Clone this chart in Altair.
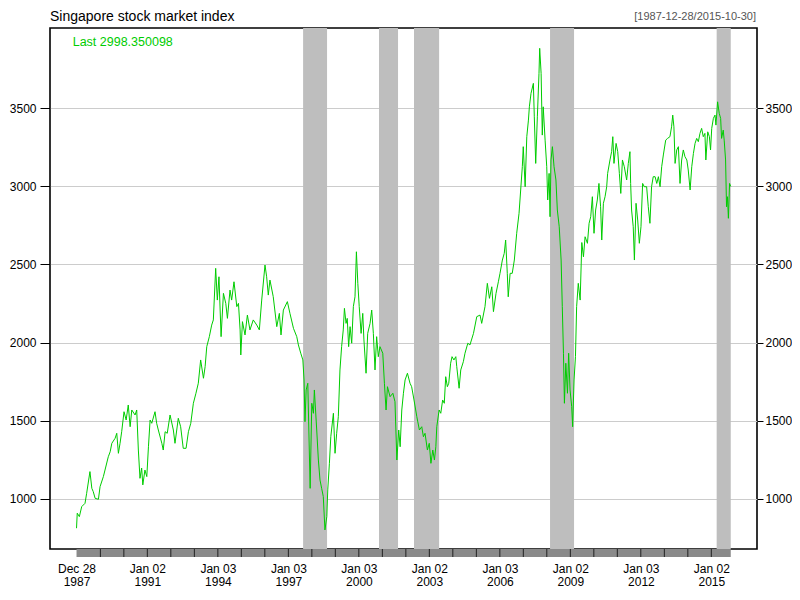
import altair as alt
import pandas as pd

TITLE = "Singapore stock market index"
RANGE_TEXT = "[1987-12-28/2015-10-30]"
LAST_TEXT = "Last 2998.350098"

# decimal-year dates and index values
YEARS = [
    1987.99, 1988.02, 1988.11, 1988.21, 1988.35, 1988.42, 1988.56, 1988.64, 1988.70, 1988.78,
    1988.92, 1988.99, 1989.13, 1989.20, 1989.34, 1989.42, 1989.49, 1989.63, 1989.70, 1989.77,
    1989.84, 1989.91, 1990.01, 1990.10, 1990.19, 1990.27, 1990.34, 1990.48, 1990.55, 1990.62,
    1990.69, 1990.76, 1990.81, 1990.90, 1990.98, 1991.05, 1991.12, 1991.19, 1991.33, 1991.40,
    1991.47, 1991.62, 1991.68, 1991.76, 1991.85, 1991.97, 1992.11, 1992.18, 1992.32, 1992.42,
    1992.53, 1992.65, 1992.75, 1992.85, 1992.96, 1993.07, 1993.17, 1993.27, 1993.39, 1993.46,
    1993.53, 1993.64, 1993.74, 1993.81, 1993.91, 1993.98, 1994.05, 1994.14, 1994.24, 1994.34,
    1994.41, 1994.52, 1994.59, 1994.69, 1994.81, 1994.88, 1994.95, 1994.98, 1995.05, 1995.16,
    1995.26, 1995.37, 1995.51, 1995.66, 1995.77, 1995.87, 1996.01, 1996.08, 1996.15, 1996.22,
    1996.36, 1996.51, 1996.62, 1996.69, 1996.79, 1996.96, 1997.07, 1997.22, 1997.36, 1997.43,
    1997.53, 1997.62, 1997.67, 1997.71, 1997.76, 1997.83, 1997.93, 1998.00, 1998.07, 1998.11,
    1998.21, 1998.28, 1998.35, 1998.42, 1998.49, 1998.56, 1998.64, 1998.68, 1998.75, 1998.81,
    1998.92, 1998.99, 1999.06, 1999.13, 1999.20, 1999.27, 1999.34, 1999.39, 1999.46, 1999.51,
    1999.57, 1999.63, 1999.70, 1999.77, 1999.84, 1999.90, 1999.96, 2000.02, 2000.10, 2000.17,
    2000.22, 2000.31, 2000.38, 2000.48, 2000.55, 2000.62, 2000.69, 2000.76, 2000.83, 2000.90,
    2001.02, 2001.09, 2001.16, 2001.22, 2001.33, 2001.45, 2001.54, 2001.62, 2001.70, 2001.76,
    2001.83, 2001.90, 2001.97, 2002.07, 2002.18, 2002.25, 2002.35, 2002.47, 2002.58, 2002.68,
    2002.75, 2002.82, 2002.92, 2003.00, 2003.07, 2003.15, 2003.22, 2003.28, 2003.32, 2003.42,
    2003.49, 2003.57, 2003.64, 2003.70, 2003.77, 2003.83, 2003.91, 2003.97, 2004.05, 2004.13,
    2004.17, 2004.27, 2004.34, 2004.45, 2004.52, 2004.64, 2004.73, 2004.88, 2005.02, 2005.16,
    2005.23, 2005.37, 2005.47, 2005.56, 2005.66, 2005.73, 2005.84, 2005.94, 2006.01, 2006.11,
    2006.19, 2006.25, 2006.32, 2006.36, 2006.44, 2006.53, 2006.62, 2006.72, 2006.82, 2006.89,
    2006.96, 2007.00, 2007.08, 2007.15, 2007.22, 2007.26, 2007.33, 2007.43, 2007.47, 2007.53,
    2007.60, 2007.67, 2007.70, 2007.76, 2007.81, 2007.85, 2007.93, 2008.00, 2008.04, 2008.10,
    2008.14, 2008.18, 2008.24, 2008.31, 2008.39, 2008.45, 2008.53, 2008.61, 2008.66, 2008.71,
    2008.75, 2008.81, 2008.88, 2008.93, 2008.99, 2009.06, 2009.10, 2009.16, 2009.22, 2009.27,
    2009.34, 2009.42, 2009.49, 2009.56, 2009.63, 2009.73, 2009.80, 2009.87, 2009.94, 2010.01,
    2010.08, 2010.15, 2010.22, 2010.29, 2010.34, 2010.41, 2010.48, 2010.55, 2010.59, 2010.69,
    2010.76, 2010.81, 2010.86, 2010.95, 2011.02, 2011.09, 2011.15, 2011.22, 2011.30, 2011.40,
    2011.47, 2011.54, 2011.57, 2011.61, 2011.68, 2011.73, 2011.80, 2011.87, 2011.94, 2012.01,
    2012.08, 2012.15, 2012.25, 2012.32, 2012.39, 2012.46, 2012.53, 2012.61, 2012.68, 2012.75,
    2012.82, 2012.89, 2012.96, 2013.06, 2013.14, 2013.24, 2013.31, 2013.36, 2013.41, 2013.46,
    2013.53, 2013.60, 2013.67, 2013.74, 2013.81, 2013.88, 2013.96, 2014.02, 2014.10, 2014.17,
    2014.24, 2014.31, 2014.38, 2014.45, 2014.52, 2014.59, 2014.66, 2014.73, 2014.77, 2014.85,
    2014.92, 2014.97, 2015.02, 2015.09, 2015.16, 2015.20, 2015.27, 2015.34, 2015.40, 2015.44,
    2015.51, 2015.55, 2015.61, 2015.65, 2015.69, 2015.73, 2015.78, 2015.83,
]
VALUES = [
    813, 909, 887, 951, 972, 1036, 1175, 1068, 1047, 1004,
    998, 1079, 1143, 1185, 1270, 1302, 1356, 1388, 1420, 1292,
    1356, 1430, 1558, 1505, 1601, 1462, 1569, 1537, 1569, 1313,
    1132, 1198, 1090, 1185, 1143, 1334, 1505, 1484, 1558, 1484,
    1441, 1356, 1313, 1430, 1420, 1537, 1441, 1356, 1516, 1462,
    1324, 1324, 1430, 1484, 1612, 1676, 1740, 1889, 1772, 1846,
    1974, 2038, 2112, 2145, 2475, 2272, 2421, 2038, 2315, 2251,
    2155, 2336, 2272, 2389, 2230, 2251, 2081, 1921, 2134, 2049,
    2176, 2081, 2145, 2112, 2081, 2272, 2496, 2421, 2304, 2400,
    2294, 2102, 2187, 2049, 2208, 2262, 2187, 2091, 2038, 1985,
    1932, 1889, 1761, 1494, 1697, 1740, 1068, 1612, 1548, 1697,
    1441, 1249, 1121, 1068, 1015, 802, 887, 1058, 1228, 1398,
    1548, 1292, 1420, 1526, 1825, 1974, 2081, 2219, 2123, 2155,
    1974, 2102, 1996, 2230, 2293, 2581, 2379, 2230, 2059, 2187,
    2017, 1804, 2059, 2123, 2208, 2059, 1825, 2038, 1910, 1974,
    1932, 1740, 1569, 1718, 1654, 1676, 1622, 1249, 1441, 1334,
    1569, 1676, 1761, 1804, 1740, 1718, 1633, 1526, 1441, 1462,
    1398, 1420, 1313, 1356, 1228, 1313, 1249, 1334, 1462, 1569,
    1548, 1633, 1612, 1782, 1718, 1740, 1868, 1910, 1889, 1910,
    1846, 1708, 1825, 1878, 1932, 1996, 1985, 2059, 2166, 2176,
    2123, 2230, 2379, 2283, 2357, 2198, 2315, 2389, 2443, 2528,
    2571, 2656, 2443, 2293, 2443, 2443, 2528, 2699, 2827, 2976,
    3125, 3253, 2997, 3317, 3423, 3508, 3594, 3658, 3444, 3146,
    3444, 3722, 3882, 3722, 3327, 3508, 3295, 3125, 2912, 3082,
    2805, 3168, 3253, 3125, 3040, 2848, 2741, 2528, 2230, 1932,
    1612, 1868, 1676, 1932, 1697, 1590, 1462, 1761, 1910, 2230,
    2379, 2272, 2640, 2549, 2677, 2635, 2763, 2805, 2933, 2699,
    2848, 2912, 3018, 2869, 2656, 2891, 2933, 2997, 3082, 3168,
    3221, 3317, 3146, 3274, 3221, 3082, 2954, 3168, 3125, 3040,
    3146, 3221, 3018, 2848, 2741, 2528, 2891, 2784, 2635, 2741,
    3018, 2997, 2997, 2869, 2763, 2997, 3061, 3061, 3018, 3061,
    2997, 3125, 3200, 3295, 3306, 3317, 3380, 3455, 3380, 3146,
    3232, 3253, 3018, 3168, 3232, 3189, 3168, 3104, 2976, 3125,
    3210, 3274, 3306, 3285, 3338, 3370, 3317, 3338, 3168, 3348,
    3317, 3232, 3370, 3434, 3455, 3391, 3540, 3466, 3434, 3306,
    3359, 3295, 3168, 2869, 2933, 2795, 3018, 2998.35,
]

# shaded periods (decimal years)
BAND_START = [1997.63, 2000.86, 2002.35, 2008.14, 2015.23]
BAND_END = [1998.65, 2001.67, 2003.42, 2009.16, 2015.83]

Y_TICKS = [1000, 1500, 2000, 2500, 3000, 3500]
X_TICKS = [(1987, 12, 28), (1991, 1, 2), (1994, 1, 3), (1997, 1, 3), (2000, 1, 3),
           (2003, 1, 2), (2006, 1, 3), (2009, 1, 2), (2012, 1, 3), (2015, 1, 2)]
DIVIDER_YEARS = list(range(1989, 2016))


def dec2date(y):
    yr = int(y)
    start = pd.Timestamp(yr, 1, 1)
    end = pd.Timestamp(yr + 1, 1, 1)
    return (start + (end - start) * (y - yr)).floor("min")


df = pd.DataFrame({"date": [dec2date(y) for y in YEARS], "value": VALUES})
bands = pd.DataFrame({"start": [dec2date(y) for y in BAND_START],
                      "end": [dec2date(y) for y in BAND_END]})
strip = pd.DataFrame({"start": [df["date"].iloc[0]], "end": [df["date"].iloc[-1]]})
dividers = pd.DataFrame({"date": [pd.Timestamp(y, 1, 2) for y in DIVIDER_YEARS]})

FONT = "Liberation Sans"
GREEN = "#00cc00"
W, H = 707, 521

xscale = alt.Scale(domain=[alt.DateTime(year=1986, month=11, date=11),
                           alt.DateTime(year=2016, month=12, date=12)])
xaxis = alt.Axis(
    values=[alt.DateTime(year=a, month=b, date=c) for a, b, c in X_TICKS],
    labelExpr="[timeFormat(datum.value, '%b %d'), timeFormat(datum.value, '%Y')]",
    ticks=False, tickSize=0, domain=False, grid=False, title=None,
    labelPadding=14, labelLineHeight=13.5, labelFont=FONT, labelFontSize=12,
    labelColor="black", labelAlign="center", labelBaseline="top", labelFlush=False,
    labelOverlap=False,
)
yscale = alt.Scale(domain=[680, 4012], nice=False, zero=False)

band_layer = alt.Chart(bands).mark_rect(color="#bebebe").encode(
    x=alt.X("start:T", scale=xscale, axis=xaxis),
    x2="end:T",
    y=alt.value(0),
    y2=alt.value(H),
)

strip_layer = alt.Chart(strip).mark_rect(color="#8a8a8a").encode(
    x=alt.X("start:T", scale=xscale, axis=xaxis),
    x2="end:T",
    y=alt.value(H),
    y2=alt.value(H + 8),
)

divider_layer = alt.Chart(dividers).mark_rule(color="#222222", strokeWidth=1).encode(
    x=alt.X("date:T", scale=xscale, axis=xaxis),
    y=alt.value(H),
    y2=alt.value(H + 8),
)

line_left = alt.Chart(df).mark_line(color=GREEN, strokeWidth=1).encode(
    x=alt.X("date:T", scale=xscale, axis=xaxis),
    y=alt.Y("value:Q", scale=yscale, axis=alt.Axis(
        orient="left", values=Y_TICKS, format="d", grid=True, gridColor="#cccccc",
        gridWidth=1, domain=False, ticks=True, tickSize=10, tickColor="black",
        tickWidth=1, labelPadding=4, title=None, labelFont=FONT, labelFontSize=12,
        labelColor="black",
    )),
)

line_right = alt.Chart(df).mark_line(opacity=0).encode(
    x=alt.X("date:T", scale=xscale, axis=xaxis),
    y=alt.Y("value:Q", scale=yscale, axis=alt.Axis(
        orient="right", values=Y_TICKS, format="d", grid=False,
        domain=False, ticks=True, tickSize=6, tickColor="black", tickWidth=1,
        labelPadding=2, title=None, labelFont=FONT, labelFontSize=12,
        labelColor="black",
    )),
)

title_layer = alt.Chart(pd.DataFrame({"t": [TITLE]})).mark_text(
    align="left", baseline="alphabetic", font=FONT, fontSize=14, color="black"
).encode(x=alt.value(0), y=alt.value(-7.2), text="t:N")

range_layer = alt.Chart(pd.DataFrame({"t": [RANGE_TEXT]})).mark_text(
    align="right", baseline="alphabetic", font=FONT,
    fontSize=11, color="#555555"
).encode(x=alt.value(W - 1), y=alt.value(-8.5), text="t:N")

last_layer = alt.Chart(pd.DataFrame({"t": [LAST_TEXT]})).mark_text(
    align="left", baseline="alphabetic", font=FONT, fontSize=12.5, color=GREEN
).encode(x=alt.value(22.7), y=alt.value(18), text="t:N")

chart = alt.layer(
    band_layer, strip_layer, divider_layer, line_left, line_right,
    title_layer, range_layer, last_layer,
).resolve_axis(y="independent").properties(
    width=W, height=H,
    padding={"left": 42, "top": 20, "right": 35, "bottom": 39},
    autosize=alt.AutoSizeParams(type="none"),
    background="white",
).configure_view(stroke="black", strokeWidth=1.6)

chart.save("out.html", embed_options={"renderer": "svg", "actions": False})
